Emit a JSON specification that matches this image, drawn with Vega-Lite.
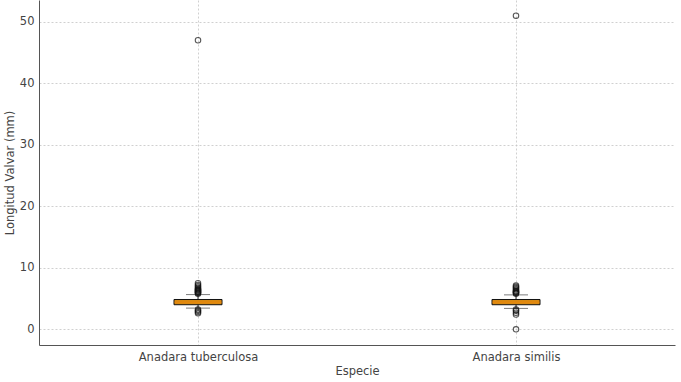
{
  "$schema": "https://vega.github.io/schema/vega-lite/v6.json",
  "width": 636,
  "height": 345,
  "autosize": "none",
  "padding": {"left": 39, "top": 0, "right": 6, "bottom": 37},
  "config": {
    "view": {"stroke": null},
    "font": "DejaVu Sans",
    "axis": {
      "labelFont": "DejaVu Sans", "titleFont": "DejaVu Sans",
      "labelFontSize": 11.5, "titleFontSize": 11.5,
      "labelColor": "#444", "titleColor": "#444",
      "titleFontWeight": "normal",
      "domainColor": "#555", "domainWidth": 1,
      "ticks": false,
      "gridColor": "#c4c4c4", "gridDash": [2, 2], "gridWidth": 0.8
    }
  },
  "datasets": {
    "stats": [
      {"especie": "Anadara tuberculosa", "lo": 3.45, "q1": 4.0, "median": 4.4, "q3": 4.85, "hi": 5.65},
      {"especie": "Anadara similis", "lo": 3.4, "q1": 4.0, "median": 4.4, "q3": 4.85, "hi": 5.6}
    ],
    "outliers": [
      {"especie": "Anadara tuberculosa", "v": 47},
      {"especie": "Anadara tuberculosa", "v": 5.8},
      {"especie": "Anadara tuberculosa", "v": 5.9},
      {"especie": "Anadara tuberculosa", "v": 6.0},
      {"especie": "Anadara tuberculosa", "v": 6.1},
      {"especie": "Anadara tuberculosa", "v": 6.2},
      {"especie": "Anadara tuberculosa", "v": 6.3},
      {"especie": "Anadara tuberculosa", "v": 6.4},
      {"especie": "Anadara tuberculosa", "v": 6.5},
      {"especie": "Anadara tuberculosa", "v": 6.6},
      {"especie": "Anadara tuberculosa", "v": 6.8},
      {"especie": "Anadara tuberculosa", "v": 7.0},
      {"especie": "Anadara tuberculosa", "v": 7.2},
      {"especie": "Anadara tuberculosa", "v": 7.5},
      {"especie": "Anadara tuberculosa", "v": 3.2},
      {"especie": "Anadara tuberculosa", "v": 3.0},
      {"especie": "Anadara tuberculosa", "v": 2.8},
      {"especie": "Anadara tuberculosa", "v": 2.6},
      {"especie": "Anadara similis", "v": 51},
      {"especie": "Anadara similis", "v": 0},
      {"especie": "Anadara similis", "v": 5.8},
      {"especie": "Anadara similis", "v": 5.9},
      {"especie": "Anadara similis", "v": 6.0},
      {"especie": "Anadara similis", "v": 6.1},
      {"especie": "Anadara similis", "v": 6.2},
      {"especie": "Anadara similis", "v": 6.3},
      {"especie": "Anadara similis", "v": 6.5},
      {"especie": "Anadara similis", "v": 6.7},
      {"especie": "Anadara similis", "v": 6.9},
      {"especie": "Anadara similis", "v": 7.1},
      {"especie": "Anadara similis", "v": 3.2},
      {"especie": "Anadara similis", "v": 3.0},
      {"especie": "Anadara similis", "v": 2.7},
      {"especie": "Anadara similis", "v": 2.4}
    ]
  },
  "encoding": {
    "x": {
      "field": "especie", "type": "nominal",
      "sort": ["Anadara tuberculosa", "Anadara similis"],
      "scale": {"type": "point", "padding": 0.5},
      "axis": {"title": "Especie", "labelAngle": 0, "grid": true, "labelPadding": 6, "titlePadding": 3}
    }
  },
  "layer": [
    {
      "data": {"name": "stats"},
      "mark": {"type": "rule", "color": "#222", "strokeWidth": 1},
      "encoding": {
        "y": {"field": "lo", "type": "quantitative",
          "scale": {"domain": [-2.55, 53.55], "nice": false, "zero": false},
          "axis": {"title": "Longitud Valvar (mm)", "values": [0, 10, 20, 30, 40, 50], "grid": true, "labelPadding": 5, "titlePadding": 4}},
        "y2": {"field": "q1"}
      }
    },
    {
      "data": {"name": "stats"},
      "mark": {"type": "rule", "color": "#222", "strokeWidth": 1},
      "encoding": {"y": {"field": "q3", "type": "quantitative"}, "y2": {"field": "hi"}}
    },
    {
      "data": {"name": "stats"},
      "mark": {"type": "tick", "orient": "horizontal", "color": "#444", "size": 24, "thickness": 1},
      "encoding": {"y": {"field": "lo", "type": "quantitative"}}
    },
    {
      "data": {"name": "stats"},
      "mark": {"type": "tick", "orient": "horizontal", "color": "#444", "size": 24, "thickness": 1},
      "encoding": {"y": {"field": "hi", "type": "quantitative"}}
    },
    {
      "data": {"name": "stats"},
      "mark": {"type": "bar", "size": 48, "fill": "#d98a12", "stroke": "#111", "strokeWidth": 1},
      "encoding": {"y": {"field": "q1", "type": "quantitative"}, "y2": {"field": "q3"}}
    },
    {
      "data": {"name": "stats"},
      "mark": {"type": "tick", "orient": "horizontal", "color": "#e8880c", "size": 47, "thickness": 1.5},
      "encoding": {"y": {"field": "median", "type": "quantitative"}}
    },
    {
      "data": {"name": "outliers"},
      "mark": {"type": "point", "shape": "circle", "filled": false, "stroke": "#111", "strokeWidth": 1.1, "size": 30},
      "encoding": {"y": {"field": "v", "type": "quantitative"}}
    }
  ]
}
